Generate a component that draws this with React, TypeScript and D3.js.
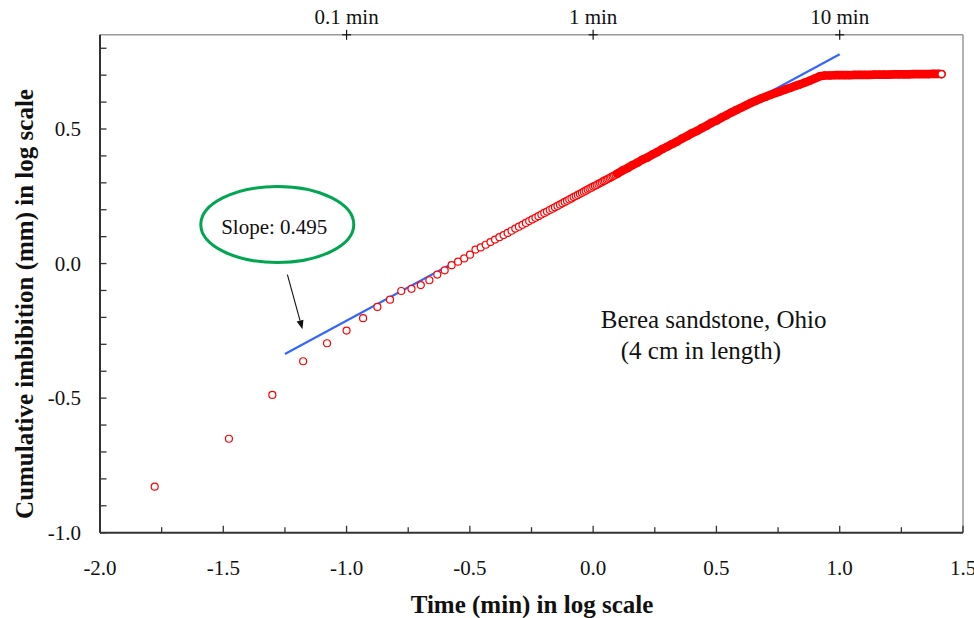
import React from "react";
import * as d3 from "d3";

const W = 974;
const H = 618;

// ---- data ----
// early measurements, one per second (time in seconds)
const earlyTimeSec = [
  1, 2, 3, 4, 5, 6, 7, 8, 9, 10, 11, 12, 13, 14, 15, 16, 17, 18, 19, 20,
  21, 22, 23, 24, 25, 26, 27, 28, 29, 30, 31, 32, 33, 34, 35, 36, 37, 38, 39, 40,
  41, 42, 43, 44, 45, 46, 47, 48, 49, 50, 51, 52, 53, 54, 55, 56, 57, 58, 59, 60,
  61, 62, 63, 64, 65, 66, 67, 68, 69, 70, 71, 72, 73, 74, 75,
];
// log10 of cumulative imbibition (mm)
const earlyLogImb = [
  -0.829, -0.651, -0.488, -0.363, -0.296, -0.249, -0.203, -0.161, -0.134, -0.102,
  -0.094, -0.080, -0.062, -0.041, -0.025, -0.006, 0.007, 0.019, 0.033, 0.052,
  0.060, 0.070, 0.080, 0.089, 0.098, 0.106, 0.114, 0.122, 0.130, 0.137,
  0.144, 0.151, 0.158, 0.164, 0.170, 0.176, 0.182, 0.188, 0.193, 0.199,
  0.204, 0.209, 0.214, 0.219, 0.224, 0.229, 0.233, 0.238, 0.242, 0.247,
  0.251, 0.255, 0.259, 0.263, 0.267, 0.271, 0.275, 0.279, 0.282, 0.286,
  0.289, 0.292, 0.296, 0.299, 0.302, 0.306, 0.309, 0.312, 0.315, 0.318,
  0.321, 0.324, 0.327, 0.330, 0.333,
];
// dense part of the record (log10 time in min)
const bandLogTime = [
  0.10, 0.12, 0.14, 0.16, 0.18, 0.20,
  0.22, 0.24, 0.26, 0.28, 0.30, 0.32, 0.34, 0.36, 0.38, 0.40,
  0.42, 0.44, 0.46, 0.48, 0.50, 0.52, 0.54, 0.56, 0.58, 0.60,
  0.62, 0.64, 0.66, 0.68, 0.70, 0.72, 0.74, 0.76, 0.78, 0.80,
  0.82, 0.84, 0.86, 0.88, 0.90, 0.92, 0.94, 0.96, 0.98, 1.00,
  1.02, 1.04, 1.06, 1.08, 1.10, 1.12, 1.14, 1.16, 1.18, 1.20,
  1.22, 1.24, 1.26, 1.28, 1.30, 1.32, 1.34, 1.36, 1.38, 1.40, 1.413,
];
const bandLogImb = [
  0.335, 0.346, 0.355, 0.366, 0.375, 0.386,
  0.394, 0.405, 0.414, 0.425, 0.434, 0.444, 0.453, 0.464, 0.473, 0.484,
  0.492, 0.503, 0.512, 0.523, 0.531, 0.542, 0.551, 0.561, 0.570, 0.579,
  0.588, 0.597, 0.605, 0.613, 0.620, 0.627, 0.634, 0.640, 0.647, 0.653,
  0.660, 0.666, 0.673, 0.680, 0.688, 0.696, 0.699, 0.699, 0.700, 0.700,
  0.700, 0.700, 0.701, 0.701, 0.701, 0.701, 0.702, 0.702, 0.702, 0.702,
  0.703, 0.703, 0.703, 0.703, 0.704, 0.704, 0.704, 0.704, 0.705, 0.705, 0.704,
];
// fitted line, slope 0.495
const fitLogTime = [-1.25, 1.0];
const fitLogImb = [-0.336, 0.778];

const xMajorTicks = [-2.0, -1.5, -1.0, -0.5, 0.0, 0.5, 1.0, 1.5];
const xTickLabels = ["-2.0", "-1.5", "-1.0", "-0.5", "0.0", "0.5", "1.0", "1.5"];
const yMajorTicks = [-1.0, -0.5, 0.0, 0.5];
const yTickLabels = ["-1.0", "-0.5", "0.0", "0.5"];
const topTickValues = [-1, 0, 1];
const topTickLabels = ["0.1 min", "1 min", "10 min"];

const FONT = "'Liberation Serif', 'Times New Roman', Times, serif";

export default function App() {
  const left = 100, right = 963, top = 34.8, bottom = 532.7;
  const x = d3.scaleLinear().domain([-2, 1.5]).range([left, right]);
  const y = d3.scaleLinear().domain([-1, 0.85]).range([bottom, top]);

  const xMinor = d3.range(0, 15).map((i) => -2 + i * 0.25);
  const yMinor = d3.range(0, 19).map((i) => -1 + i * 0.1);

  const early = earlyTimeSec.map((t, i) => ({ lx: Math.log10(t / 60), ly: earlyLogImb[i] }));
  const band = bandLogTime.map((lx, i) => ({ lx, ly: bandLogImb[i] }));
  const last = band[band.length - 1];

  const bandLine = d3
    .line<{ lx: number; ly: number }>()
    .x((d) => x(d.lx))
    .y((d) => y(d.ly))
    .curve(d3.curveLinear);

  const fitLine = d3
    .line<number>()
    .x((d) => x(d))
    .y((_, i) => y(fitLogImb[i]));

  const red = "#ff0000";
  const r = 3.5;
  const sw = 1.2;

  // annotation anchors (data coordinates)
  const ellCx = x(-1.281), ellCy = y(0.145);
  const arrowFrom = [x(-1.24), y(-0.041)];
  const arrowTo = [x(-1.179), y(-0.244)];
  const ang = Math.atan2(arrowTo[1] - arrowFrom[1], arrowTo[0] - arrowFrom[0]);
  const ah = 9, aw = 3.5;
  const baseX = arrowTo[0] - ah * Math.cos(ang);
  const baseY = arrowTo[1] - ah * Math.sin(ang);
  const headPts = [
    [arrowTo[0], arrowTo[1]],
    [baseX + aw * Math.sin(ang), baseY - aw * Math.cos(ang)],
    [baseX - aw * Math.sin(ang), baseY + aw * Math.cos(ang)],
  ]
    .map((p) => p.join(","))
    .join(" ");

  return (
    <svg
      width={W}
      height={H}
      style={{ position: "absolute", left: 0, top: 0, background: "#fff" }}
      fontFamily={FONT}
    >
      <rect x={0} y={0} width={W} height={H} fill="#fff" />

      {/* frame: top and right in gray */}
      <line x1={left} x2={right} y1={top} y2={top} stroke="#9a9a9a" strokeWidth={1.5} />
      <line x1={right} x2={right} y1={top} y2={bottom} stroke="#9a9a9a" strokeWidth={1.5} />

      {/* fitted line */}
      <path d={fitLine(fitLogTime) || ""} fill="none" stroke="#3366ff" strokeWidth={2.2} />

      {/* early points */}
      {early.map((d, i) => (
        <circle key={"e" + i} cx={x(d.lx)} cy={y(d.ly)} r={r} fill="#fff" stroke={red} strokeWidth={sw} />
      ))}

      {/* dense band */}
      <path
        d={bandLine(band) || ""}
        fill="none"
        stroke={red}
        strokeWidth={8.6}
        strokeLinecap="round"
        strokeLinejoin="round"
      />
      {band.map((d, i) => (
        <circle key={"b" + i} cx={x(d.lx)} cy={y(d.ly)} r={r} fill="none" stroke={red} strokeWidth={sw} />
      ))}
      <circle cx={x(last.lx)} cy={y(last.ly)} r={r} fill="#fff" stroke={red} strokeWidth={sw} />

      {/* left axis */}
      <line x1={left} x2={left} y1={top} y2={bottom} stroke="#333" strokeWidth={2} />
      {yMinor.map((v, i) => (
        <line key={"yt" + i} x1={left} x2={left + 6.5} y1={y(v)} y2={y(v)} stroke="#333" strokeWidth={1.3} />
      ))}
      {yMajorTicks.map((v, i) => (
        <text key={"yl" + i} x={81} y={y(v)} dy="0.34em" textAnchor="end" fontSize={21} fill="#111">
          {yTickLabels[i]}
        </text>
      ))}

      {/* bottom axis */}
      <line x1={left} x2={right} y1={bottom} y2={bottom} stroke="#333" strokeWidth={2} />
      {xMinor.map((v, i) => {
        const major = Math.abs(v * 2 - Math.round(v * 2)) < 1e-6;
        return (
          <line
            key={"xt" + i}
            x1={x(v)}
            x2={x(v)}
            y1={bottom}
            y2={bottom - (major ? 7 : 5.5)}
            stroke="#333"
            strokeWidth={1.3}
          />
        );
      })}
      {xMajorTicks.map((v, i) => (
        <text key={"xl" + i} x={x(v)} y={575} textAnchor="middle" fontSize={21} fill="#111">
          {xTickLabels[i]}
        </text>
      ))}

      {/* top axis (minutes) */}
      {topTickValues.map((v, i) => (
        <g key={"tt" + i}>
          <line x1={x(v)} x2={x(v)} y1={top - 5} y2={top + 5} stroke="#111" strokeWidth={1.2} />
          <line x1={x(v) - 4.5} x2={x(v) + 4.5} y1={top} y2={top} stroke="#111" strokeWidth={1.2} />
          <text x={x(v)} y={24} textAnchor="middle" fontSize={21} fill="#111">
            {topTickLabels[i]}
          </text>
        </g>
      ))}

      {/* axis titles */}
      <text x={532} y={613} textAnchor="middle" fontSize={25} fontWeight="bold" fill="#111">
        Time (min) in log scale
      </text>
      <text
        transform={`translate(33,304) rotate(-90)`}
        textAnchor="middle"
        fontSize={25}
        fontWeight="bold"
        fill="#111"
      >
        Cumulative imbibition (mm) in log scale
      </text>

      {/* slope annotation */}
      <ellipse cx={ellCx} cy={ellCy} rx={76.5} ry={38} fill="none" stroke="#00a651" strokeWidth={3} />
      <text x={ellCx - 3} y={ellCy + 9.5} textAnchor="middle" fontSize={21} fill="#111">
        Slope: 0.495
      </text>
      <line x1={arrowFrom[0]} y1={arrowFrom[1]} x2={baseX} y2={baseY} stroke="#111" strokeWidth={1.1} />
      <polygon points={headPts} fill="#111" />

      {/* sample label */}
      <text x={x(0.031)} y={328} fontSize={25} fill="#111">
        Berea sandstone, Ohio
      </text>
      <text x={x(0.112)} y={359} fontSize={25} fill="#111">
        (4 cm in length)
      </text>
    </svg>
  );
}
